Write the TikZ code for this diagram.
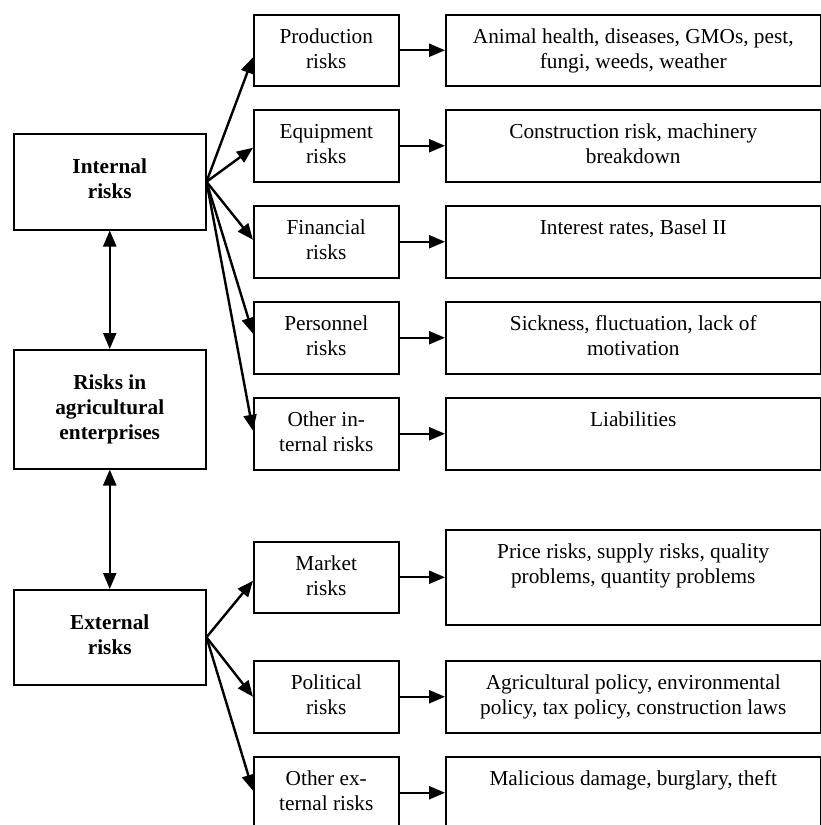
\documentclass[tikz,border=0pt]{standalone}
\usepackage{fontspec}
\setmainfont{Liberation Serif}
\usetikzlibrary{arrows.meta}

\begin{document}
\begin{tikzpicture}[x=1pt, y=-1pt, >={Triangle[length=16pt,width=13pt]},
  every node/.style={font=\fontsize{21.3}{25}\selectfont, draw, line width=1.5pt,
    anchor=north west, align=center, inner xsep=0pt, inner ysep=0pt},
  outer/.style={minimum width=192pt, text height=65pt,
    font=\fontsize{21.3}{25}\selectfont\bfseries},
  mid/.style={minimum width=145pt, text height=54pt},
  res/.style={minimum width=375pt, text height=54pt},
  link/.style={->, line width=2.4pt}]
\clip (0,0) rectangle (821,825);
% left column
\node[outer, text depth=31pt] (int) at (13,133) {Internal\\risks};
\node[outer, text height=90pt, text depth=29pt] (agr) at (13,349) {Risks in\\agricultural\\enterprises};
\node[outer, text depth=30pt] (ext) at (13,589) {External\\risks};
% risk types
\node[mid, text depth=17pt] (prod) at (253,14) {Production\\risks};
\node[mid, text depth=18pt] (equ) at (253,109) {Equipment\\risks};
\node[mid, text depth=18pt] (fin) at (253,205) {Financial\\risks};
\node[mid, text depth=18pt] (pers) at (253,301) {Personnel\\risks};
\node[mid, text depth=18pt] (othi) at (253,397) {Other in-\\ternal risks};
\node[mid, text depth=17pt] (mkt) at (253,541) {Market\\risks};
\node[mid, text depth=18pt] (pol) at (253,660) {Political\\risks};
\node[mid, text depth=18pt] (othe) at (253,756) {Other ex-\\ternal risks};
% examples
\node[res, text depth=17pt] (animal) at (445,14) {Animal health, diseases, GMOs, pest,\\fungi, weeds, weather};
\node[res, text depth=18pt] (constr) at (445,109) {Construction risk, machinery\\breakdown};
\node[res, text height=29pt, text depth=43pt] (interest) at (445,205) {Interest rates, Basel II};
\node[res, text depth=18pt] (sick) at (445,301) {Sickness, fluctuation, lack of\\motivation};
\node[res, text height=29pt, text depth=43pt] (liab) at (445,397) {Liabilities};
\node[res, text depth=41pt] (price) at (445,529) {Price risks, supply risks, quality\\problems, quantity problems};
\node[res, text depth=18pt] (agpol) at (445,660) {Agricultural policy, environmental\\policy, tax policy, construction laws};
\node[res, text height=29pt, text depth=43pt] (malic) at (445,756) {Malicious damage, burglary, theft};
% arrows
\draw[link, <->] (int.south) -- (agr.north);
\draw[link, <->] (agr.south) -- (ext.north);
\draw[link] (int.east) -- ([yshift=-7pt]prod.west);
\draw[link] (int.east) -- ([yshift=-2pt]equ.west);
\draw[link] (int.east) -- ([yshift=2pt]fin.west);
\draw[link] (int.east) -- ([yshift=4pt]pers.west);
\draw[link] (int.east) -- ([yshift=3pt]othi.west);
\draw[link] (ext.east) -- ([yshift=-3.5pt]mkt.west);
\draw[link] (ext.east) -- (pol.west);
\draw[link] (ext.east) -- ([yshift=2pt]othe.west);
\draw[link] (prod.east) -- (animal.west);
\draw[link] (equ.east) -- (constr.west);
\draw[link] (fin.east) -- (interest.west);
\draw[link] (pers.east) -- (sick.west);
\draw[link] (othi.east) -- (liab.west);
\draw[link] (mkt.east) -- (price.west);
\draw[link] (pol.east) -- (agpol.west);
\draw[link] (othe.east) -- (malic.west);
\end{tikzpicture}
\end{document}
